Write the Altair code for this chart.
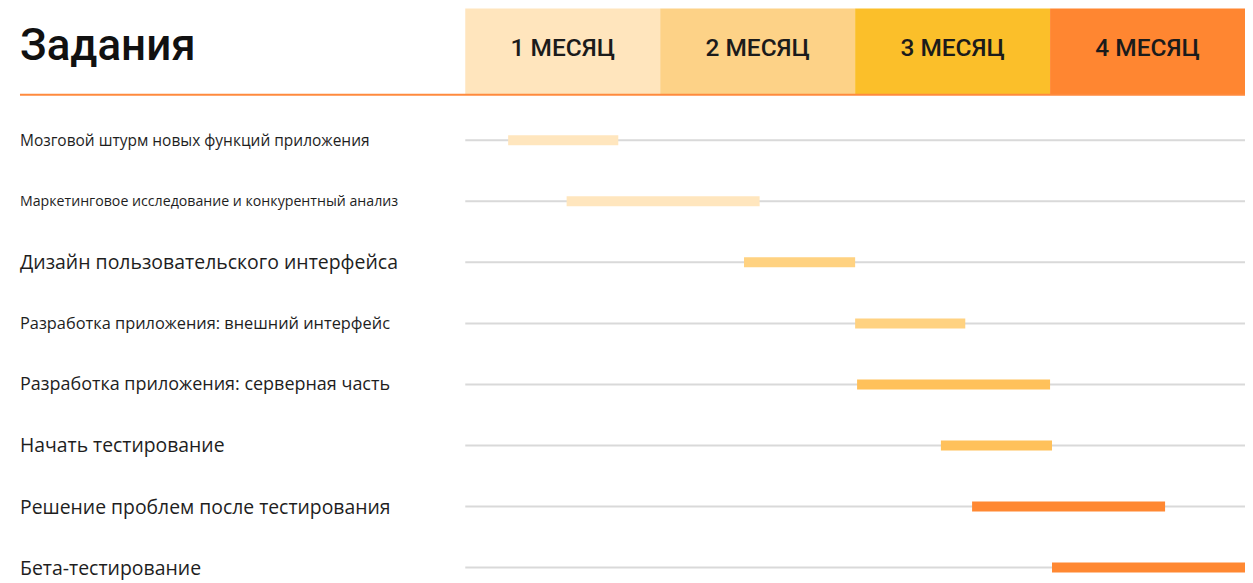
import altair as alt
import pandas as pd

# ---------------- data ----------------
title_text = ["Задания"]
months = ["1 МЕСЯЦ", "2 МЕСЯЦ", "3 МЕСЯЦ", "4 МЕСЯЦ"]
month_start = [0, 1, 2, 3]
month_end = [1, 2, 3, 4]

tasks = [
    "Мозговой штурм новых функций приложения",
    "Маркетинговое исследование и конкурентный анализ",
    "Дизайн пользовательского интерфейса",
    "Разработка приложения: внешний интерфейс",
    "Разработка приложения: серверная часть",
    "Начать тестирование",
    "Решение проблем после тестирования",
    "Бета-тестирование",
]
task_start = [0.22, 0.52, 1.43, 2.00, 2.01, 2.44, 2.60, 3.01]
task_end = [0.785, 1.51, 2.00, 2.565, 3.00, 3.01, 3.59, 4.00]
task_phase = [1, 1, 2, 2, 3, 3, 4, 4]

# ---------------- styles ----------------
MONTH_COLORS = ["#FFE5BD", "#FDD287", "#FBBF2A", "#FF8631"]
BAR_COLORS = ["#FFE6BE", "#FFD281", "#FFC15B", "#FF8832"]
LABEL_SIZES = [15.5, 14.2, 19.5, 16.4, 18.0, 19.4, 19.4, 19.5]
W, H = 1239, 575
X_RANGE = [458, 1239]
Y_RANGE = [132, 560]

month_df = pd.DataFrame({"month": months, "start": month_start, "end": month_end})
task_df = pd.DataFrame({"task": tasks, "start": task_start, "end": task_end, "phase": task_phase})
title_df = pd.DataFrame({"t": title_text})

xscale = alt.Scale(domain=[0, 4], range=X_RANGE, nice=False, zero=False)
yscale = alt.Scale(type="point", domain=tasks, range=Y_RANGE, padding=0)

bands = alt.Chart(month_df).mark_rect().encode(
    x=alt.X("start:Q", scale=xscale, axis=None),
    x2="end:Q",
    y=alt.value(0),
    y2=alt.value(86),
    color=alt.Color("month:N", scale=alt.Scale(domain=months, range=MONTH_COLORS), legend=None),
)

month_labels = alt.Chart(month_df).transform_calculate(
    mid="(datum.start + datum.end) / 2"
).mark_text(font="Roboto", fontSize=24.5, fontWeight=500, color="#1b1b1b", baseline="middle", align="center").encode(
    x=alt.X("mid:Q", scale=xscale, axis=None),
    y=alt.value(41),
    text="month:N",
)

title = alt.Chart(title_df).mark_text(
    font="Roboto", fontSize=44, fontWeight=500, color="#111111", align="left", baseline="middle"
).encode(x=alt.value(12), y=alt.value(39), text="t:N")

orange_line = alt.Chart(title_df).mark_rule(color="#FF8A3D", strokeWidth=2).encode(
    x=alt.value(12), x2=alt.value(1239), y=alt.value(86.5)
)

grid = alt.Chart(task_df).transform_calculate(g0="0", g1="4").mark_rule(
    color="#D9D9D9", strokeWidth=2
).encode(
    x=alt.X("g0:Q", scale=xscale, axis=None),
    x2="g1:Q",
    y=alt.Y("task:N", scale=yscale, axis=None, sort=tasks),
)

bars = alt.Chart(task_df).mark_rule(strokeWidth=10, strokeCap="butt").encode(
    x=alt.X("start:Q", scale=xscale, axis=None),
    x2="end:Q",
    y=alt.Y("task:N", scale=yscale, axis=None, sort=tasks),
    color=alt.Color("phase:N", scale=alt.Scale(domain=[1, 2, 3, 4], range=BAR_COLORS), legend=None),
)

label_layers = []
for name, fs in zip(tasks, LABEL_SIZES):
    label_layers.append(
        alt.Chart(task_df).transform_filter(alt.datum.task == name).mark_text(
            font="Open Sans", fontSize=fs, color="#1e1e1e", align="left", baseline="middle", dy=1
        ).encode(
            x=alt.value(12),
            y=alt.Y("task:N", scale=yscale, axis=None, sort=tasks),
            text="task:N",
        )
    )

chart = alt.layer(
    bands, month_labels, title, orange_line, grid, bars, *label_layers
).resolve_scale(color="independent").properties(
    width=W, height=H, padding=0, autosize=alt.AutoSizeParams(type="none"), background="white"
).configure_view(stroke=None)

chart.save("out.html", embed_options={"renderer": "svg", "actions": False})
